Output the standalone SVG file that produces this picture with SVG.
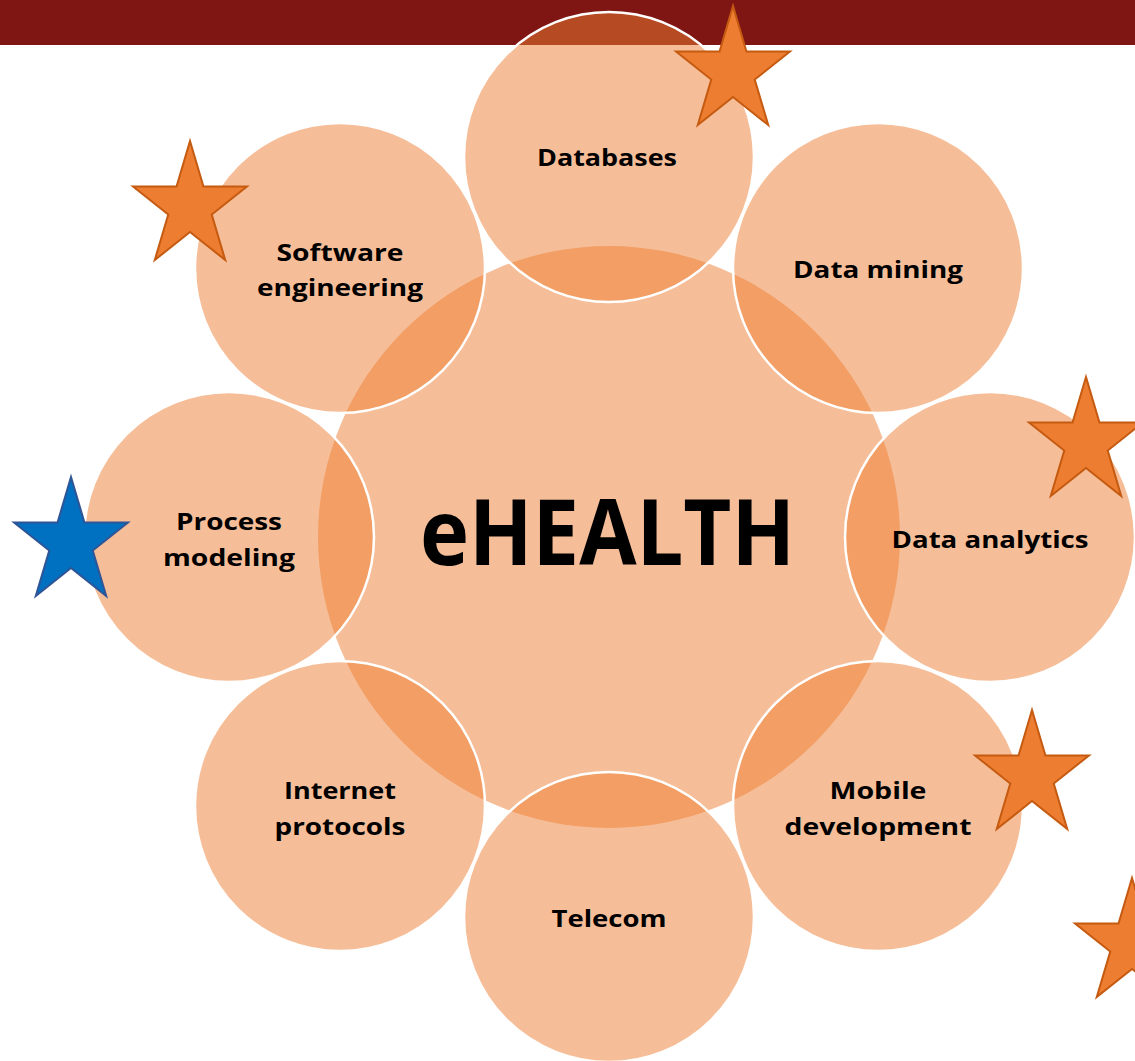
<svg xmlns="http://www.w3.org/2000/svg" width="1135" height="1061" viewBox="0 0 1135 1061">
  <style>
    .hub { fill: #ED7D31; fill-opacity: 0.5; }
    .sat { fill: #ED7D31; fill-opacity: 0.5; stroke: #FFFFFF; stroke-width: 2.5; }
    .lbl { font-family: "Open Sans", "Liberation Sans", sans-serif; font-weight: bold; font-size: 24px; fill: #000000; text-anchor: middle; }
    .big { font-family: "Open Sans", "Liberation Sans", sans-serif; font-weight: bold; font-size: 91px; fill: #000000; text-anchor: middle; }
    .star-o { fill: #ED7D31; stroke: #C55A11; stroke-width: 2; stroke-linejoin: miter; }
    .star-b { fill: #0070C0; stroke: #2F5597; stroke-width: 2; stroke-linejoin: miter; }
  </style>
  <defs>
    <path id="star" vector-effect="non-scaling-stroke" d="M0,-1 L0.2245,-0.309 L0.951,-0.309 L0.363,0.118 L0.588,0.809 L0,0.382 L-0.588,0.809 L-0.363,0.118 L-0.951,-0.309 L-0.2245,-0.309 Z"/>
  </defs>
  <rect x="0" y="0" width="1135" height="1061" fill="#FFFFFF"/>
  <rect id="title-bar" x="0" y="0" width="1135" height="45" fill="#7F1613"/>

  <g id="ehealth">
    <circle class="hub" cx="609" cy="537" r="291"/>
  </g>
  <g id="databases">
    <circle class="sat" cx="609" cy="157" r="145"/>
  </g>
  <g id="data-mining">
    <circle class="sat" cx="878" cy="268" r="145"/>
  </g>
  <g id="data-analytics">
    <circle class="sat" cx="990" cy="537" r="145"/>
  </g>
  <g id="mobile-development">
    <circle class="sat" cx="878" cy="806" r="145"/>
  </g>
  <g id="telecom">
    <circle class="sat" cx="609" cy="917" r="145"/>
  </g>
  <g id="internet-protocols">
    <circle class="sat" cx="340" cy="806" r="145"/>
  </g>
  <g id="process-modeling">
    <circle class="sat" cx="229" cy="537" r="145"/>
  </g>
  <g id="software-engineering">
    <circle class="sat" cx="340" cy="268" r="145"/>
  </g>

  <g id="labels">
    <text class="big" x="607.5" y="565" textLength="375" lengthAdjust="spacingAndGlyphs">eHEALTH</text>
    <text class="lbl" x="607" y="166" textLength="140" lengthAdjust="spacingAndGlyphs">Databases</text>
    <text class="lbl" x="878" y="278" textLength="170" lengthAdjust="spacingAndGlyphs">Data mining</text>
    <text class="lbl" x="990" y="548" textLength="197" lengthAdjust="spacingAndGlyphs">Data analytics</text>
    <text class="lbl" x="878" y="799" textLength="97" lengthAdjust="spacingAndGlyphs">Mobile</text>
    <text class="lbl" x="878" y="835" textLength="187" lengthAdjust="spacingAndGlyphs">development</text>
    <text class="lbl" x="609" y="927" textLength="115" lengthAdjust="spacingAndGlyphs">Telecom</text>
    <text class="lbl" x="340" y="799" textLength="112" lengthAdjust="spacingAndGlyphs">Internet</text>
    <text class="lbl" x="340" y="835" textLength="131" lengthAdjust="spacingAndGlyphs">protocols</text>
    <text class="lbl" x="229" y="530" textLength="106" lengthAdjust="spacingAndGlyphs">Process</text>
    <text class="lbl" x="229" y="566" textLength="132" lengthAdjust="spacingAndGlyphs">modeling</text>
    <text class="lbl" x="340" y="261" textLength="127" lengthAdjust="spacingAndGlyphs">Software</text>
    <text class="lbl" x="340" y="296" textLength="166" lengthAdjust="spacingAndGlyphs">engineering</text>
  </g>

  <g id="stars">
    <use href="#star" class="star-o" transform="translate(733 71.8) scale(59.9 65.8)"/>
    <use href="#star" class="star-o" transform="translate(190 206.8) scale(59.9 65.8)"/>
    <use href="#star" class="star-o" transform="translate(1086 442.8) scale(59.9 65.8)"/>
    <use href="#star" class="star-o" transform="translate(1032 775.8) scale(59.9 65.8)"/>
    <use href="#star" class="star-o" transform="translate(1132 943.8) scale(59.9 65.8)"/>
    <use href="#star" class="star-b" transform="translate(71 542.8) scale(59.9 65.8)"/>
  </g>
</svg>
